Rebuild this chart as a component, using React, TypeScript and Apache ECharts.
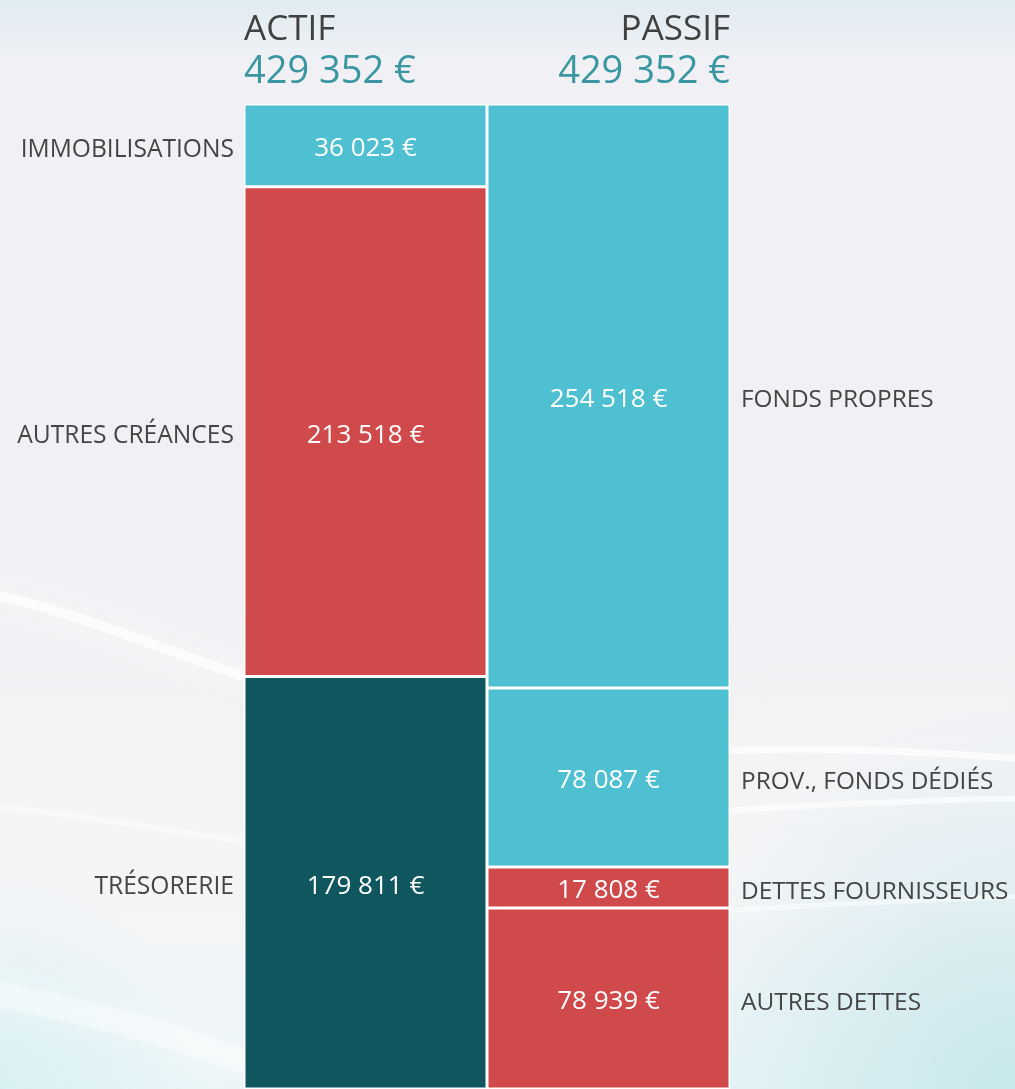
import React, { useEffect, useRef } from 'react';
import * as echarts from 'echarts';

const columns = ['ACTIF', 'PASSIF'];
const actifNames = ['IMMOBILISATIONS', 'AUTRES CRÉANCES', 'TRÉSORERIE'];
const actifValues = [36023, 213518, 179811];
const actifColors = ['#4FBFD2', '#D04A4C', '#10565E'];
const passifNames = ['FONDS PROPRES', 'PROV., FONDS DÉDIÉS', 'DETTES FOURNISSEURS', 'AUTRES DETTES'];
const passifValues = [254518, 78087, 17808, 78939];
const passifColors = ['#4FBFD2', '#4FBFD2', '#D04A4C', '#D04A4C'];

const FONT = '"Open Sans", "Noto Sans", sans-serif';
const fmt = (v: number) => String(v).replace(/\B(?=(\d{3})+(?!\d))/g, ' ') + ' €';

const W = 1015;
const H = 1089;

export default function App() {
  const ref = useRef<HTMLDivElement>(null);
  useEffect(() => {
    if (!ref.current) return;
    const chart = echarts.init(ref.current, null, { renderer: 'svg' });
    const totalA = actifValues.reduce((a, b) => a + b, 0);
    const totalP = passifValues.reduce((a, b) => a + b, 0);
    const total = Math.max(totalA, totalP);

    const mkSeries = (names: string[], values: number[], colors: string[], col: number) =>
      names.map((n, i) => ({
        type: 'bar',
        name: n,
        stack: 'bilan',
        barWidth: '100%',
        barCategoryGap: '0%',
        data: col === 0 ? [values[i], '-'] : ['-', values[i]],
        itemStyle: { color: colors[i], borderColor: '#ffffff', borderWidth: 1.5 },
        label: {
          show: true,
          position: 'inside',
          offset: [0, 1],
          formatter: () => fmt(values[i]),
          color: '#ffffff',
          fontSize: 26,
          fontFamily: FONT,
        },
        silent: true,
      }));

    const streak = (x1: number, y1: number, c1x: number, c1y: number, c2x: number, c2y: number, x2: number, y2: number, w: number, op: number) => ({
      type: 'bezierCurve',
      z: -10,
      silent: true,
      shape: { x1, y1, cpx1: c1x, cpy1: c1y, cpx2: c2x, cpy2: c2y, x2, y2 },
      style: { stroke: `rgba(255,255,255,${op})`, lineWidth: w, fill: null, shadowBlur: 30, shadowColor: 'rgba(255,255,255,0.8)' },
    });

    const bgGraphics = [
      {
        type: 'rect', z: -20, silent: true,
        shape: { x: 0, y: 0, width: W, height: H },
        style: {
          fill: new echarts.graphic.LinearGradient(0, 0, 0, 1, [
            { offset: 0, color: '#E0ECF1' },
            { offset: 0.06, color: '#F1F1F5' },
            { offset: 0.5, color: '#F1F0F4' },
            { offset: 0.85, color: '#F4F5F7' },
            { offset: 1, color: '#EAF5F7' },
          ]),
        },
      },
      {
        type: 'rect', z: -19, silent: true,
        shape: { x: 0, y: 0, width: W, height: H },
        style: {
          fill: new echarts.graphic.RadialGradient(1, 1, 0.35, [
            { offset: 0, color: 'rgba(175,222,228,0.6)' },
            { offset: 1, color: 'rgba(175,222,228,0)' },
          ]),
        },
      },
      {
        type: 'rect', z: -19, silent: true,
        shape: { x: 0, y: 0, width: W, height: H },
        style: {
          fill: new echarts.graphic.RadialGradient(0, 1, 0.2, [
            { offset: 0, color: 'rgba(205,238,242,0.6)' },
            { offset: 1, color: 'rgba(205,238,242,0)' },
          ]),
        },
      },
      streak(-30, 590, 80, 610, 170, 655, 300, 695, 10, 0.75),
      streak(-30, 805, 80, 812, 180, 835, 300, 848, 6, 0.45),
      streak(-30, 990, 100, 1010, 200, 1045, 300, 1080, 26, 0.35),
      streak(700, 752, 800, 746, 900, 750, 1040, 760, 7, 0.7),
      streak(700, 812, 800, 806, 900, 800, 1040, 798, 6, 0.6),
      streak(700, 912, 800, 906, 900, 900, 1040, 896, 5, 0.5),
    ];

    const option: any = {
      animation: false,
      grid: { left: 244, right: W - 730, top: 104, bottom: 0, containLabel: false },
      xAxis: { type: 'category', data: columns, show: false },
      yAxis: { type: 'value', min: 0, max: total, inverse: true, show: false },
      series: [
        ...mkSeries(actifNames, actifValues, actifColors, 0),
        ...mkSeries(passifNames, passifValues, passifColors, 1),
      ],
      graphic: bgGraphics,
    };
    chart.setOption(option);

    const xA = chart.convertToPixel({ xAxisIndex: 0 }, columns[0]) as number;
    const xP = chart.convertToPixel({ xAxisIndex: 0 }, columns[1]) as number;
    const half = (xP - xA) / 2;
    const leftEdge = xA - half;
    const rightEdge = xP + half;

    const sideLabels: any[] = [];
    let cum = 0;
    actifNames.forEach((n, i) => {
      const y = chart.convertToPixel({ yAxisIndex: 0 }, cum + actifValues[i] / 2) as number;
      cum += actifValues[i];
      sideLabels.push({
        type: 'text', silent: true, x: leftEdge - 10, y: y + 2,
        style: { text: n, fill: '#454545', font: `24.6px ${FONT}`, align: 'right', verticalAlign: 'middle' },
      });
    });
    cum = 0;
    passifNames.forEach((n, i) => {
      const y = chart.convertToPixel({ yAxisIndex: 0 }, cum + passifValues[i] / 2) as number;
      cum += passifValues[i];
      sideLabels.push({
        type: 'text', silent: true, x: rightEdge + 11, y: y + 2,
        style: { text: n, fill: '#454545', font: `24.4px ${FONT}`, align: 'left', verticalAlign: 'middle' },
      });
    });

    const headers = [
      { type: 'text', silent: true, x: leftEdge, y: 26, style: { text: columns[0], fill: '#404040', font: `35px ${FONT}`, align: 'left', verticalAlign: 'middle' } },
      { type: 'text', silent: true, x: rightEdge, y: 26, style: { text: columns[1], fill: '#404040', font: `35px ${FONT}`, align: 'right', verticalAlign: 'middle' } },
      { type: 'text', silent: true, x: leftEdge, y: 68, style: { text: fmt(totalA), fill: '#3A97A1', font: `38px ${FONT}`, align: 'left', verticalAlign: 'middle' } },
      { type: 'text', silent: true, x: rightEdge, y: 68, style: { text: fmt(totalP), fill: '#3A97A1', font: `38px ${FONT}`, align: 'right', verticalAlign: 'middle' } },
    ];

    chart.setOption({ graphic: [...bgGraphics, ...sideLabels, ...headers] });

    return () => chart.dispose();
  }, []);

  return (
    <div
      ref={ref}
      style={{ position: 'fixed', left: 0, top: 0, width: W, height: H }}
    />
  );
}
